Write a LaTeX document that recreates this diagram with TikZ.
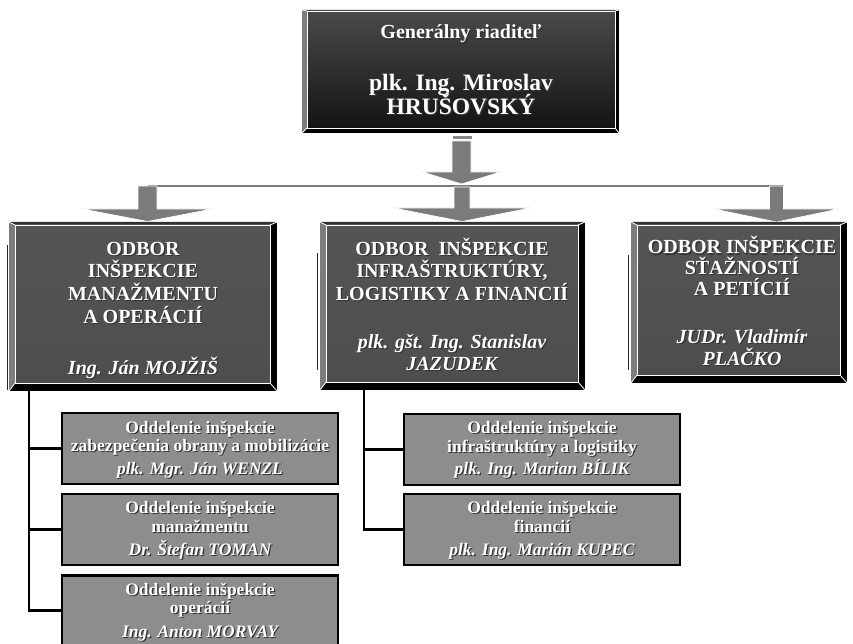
\documentclass[tikz,border=0pt]{standalone}
\usepackage{fontspec}
\setmainfont{Liberation Serif}
\definecolor{arrowgray}{RGB}{123,123,123}
\definecolor{stubgray}{RGB}{135,135,135}
\definecolor{subgray}{RGB}{141,141,141}
\definecolor{bevelgray}{RGB}{125,125,125}
\definecolor{beveltop}{RGB}{50,50,50}
\definecolor{faceA}{RGB}{84,84,84}
\definecolor{faceB}{RGB}{26,26,26}
\definecolor{faceC}{RGB}{78,78,78}
\definecolor{topA}{RGB}{74,74,74}
\definecolor{topB}{RGB}{20,20,20}
\definecolor{sideline}{RGB}{40,40,40}
\tikzset{
  conn/.style={line width=2.5pt, draw=black, line join=miter},
  hline/.style={line width=2.2pt, draw=arrowgray},
  arrowfill/.style={fill=arrowgray, draw=white, line width=0.7pt},
  subbox/.style={rectangle, fill=subgray, draw=black, line width=2.5pt, inner sep=0pt},
  boxarea/.style={rectangle, inner sep=0pt, draw=none},
  tline/.style={anchor=base, inner sep=0pt, text=white},
  tshadow/.style={text=black!80},
  ftop/.style={font=\fontsize{20}{20}\selectfont\bfseries},
  ftopbig/.style={font=\fontsize{23.5}{23.5}\selectfont\bfseries},
  fodbor/.style={font=\fontsize{20}{20}\selectfont\bfseries},
  fodborit/.style={font=\fontsize{20}{20}\selectfont\bfseries\itshape},
  fsub/.style={font=\fontsize{17.5}{18}\selectfont\bfseries},
  fsubit/.style={font=\fontsize{17.5}{18}\selectfont\bfseries\itshape},
  facetop/.style={top color=topA, bottom color=topB},
  faceodbor/.style={top color=faceA, middle color=faceB, bottom color=faceC},
}
% x1 y1 x2 y2 L T R B facestyle
\newcommand\bevelbox[9]{%
  \fill[black] (#1,#2) rectangle (#3,#4);
  \fill[bevelgray] (#1,#2) -- ({#1+#5},{#2+#6}) -- ({#1+#5},{#4-#8}) -- (#1,#4) -- cycle;
  \fill[beveltop] (#1,#2) -- (#3,#2) -- ({#3-#7},{#2+#6}) -- ({#1+#5},{#2+#6}) -- cycle;
  \shade[#9] ({#1+#5},{#2+#6}) rectangle ({#3-#7},{#4-#8});
  \draw[white, line width=0.8pt] ({#1+#5},{#2+#6}) rectangle ({#3-#7},{#4-#8});
  \draw[white, line width=0.8pt] (#1,#2) -- ({#1+#5},{#2+#6})
     (#3,#2) -- ({#3-#7},{#2+#6}) (#3,#4) -- ({#3-#7},{#4-#8}) (#1,#4) -- ({#1+#5},{#4-#8});
}
% name x y style text
\newcommand\txtline[5]{%
  \node[tline,#4,tshadow] (#1-s) at ({#2+1.2},{#3+1.2}) {#5};
  \node[tline,#4] (#1) at (#2,#3) {#5};
}
% cx stemhalf ytop yhead headhalf ytip
\newcommand\blockarrow[6]{%
  \path[arrowfill] ({#1-#2},#3) -- ({#1+#2},#3) -- ({#1+#2},#4) -- ({#1+#5},#4)
     -- (#1,#6) -- ({#1-#5},#4) -- ({#1-#2},#4) -- cycle;
}
\begin{document}
\begin{tikzpicture}[x=1pt,y=-1pt]
\useasboundingbox (0,0) rectangle (853,644);
\clip (0,0) rectangle (853,644);
\fill[white] (0,0) rectangle (853,644);

% ---------- top box ----------
\bevelbox{302}{10}{619}{133}{5}{1}{4}{5}{facetop}
\node[boxarea, minimum width=317pt, minimum height=123pt] (gd) at (460.5,71.5) {};
\txtline{gd1}{461}{39}{ftop}{Generálny riaditeľ}
\txtline{gd2}{461}{90.5}{ftopbig}{plk. Ing. Miroslav}
\txtline{gd3}{461}{114.5}{ftopbig}{HRUŠOVSKÝ}

% ---------- arrows ----------
\fill[stubgray] (453,136) rectangle (472,139);
\blockarrow{461.5}{9.5}{141}{172}{39}{184}
\coordinate (hl) at (147.5,185.8);
\coordinate (hr) at (784,185.8);
\draw[hline] (hl) -- (hr);
\blockarrow{147.5}{9.5}{186}{209}{65}{221.5}
\blockarrow{462}{8}{187}{208}{68.5}{221.5}
\blockarrow{776.5}{7}{186}{209}{62.5}{222}

% ---------- side lines ----------
\draw[sideline, line width=1pt] (7,245) -- (7,390);
\draw[sideline, line width=1pt] (317,253) -- (317,370);
\draw[sideline, line width=1pt] (628,255) -- (628,370);

% ---------- second level boxes ----------
\bevelbox{9}{222}{277}{391}{6}{3}{7}{8}{faceodbor}
\node[boxarea, minimum width=268pt, minimum height=169pt] (oa) at (143,306.5) {};
\txtline{oa1}{143}{255}{fodbor}{ODBOR}
\txtline{oa2}{143}{277.5}{fodbor}{INŠPEKCIE}
\txtline{oa3}{143}{300}{fodbor}{MANAŽMENTU}
\txtline{oa4}{143}{323}{fodbor}{A OPERÁCIÍ}
\txtline{oa5}{143}{374}{fodborit}{Ing. Ján MOJŽIŠ}

\bevelbox{320}{222}{585}{390}{6}{3}{7}{8}{faceodbor}
\node[boxarea, minimum width=265pt, minimum height=168pt] (ob) at (452.5,306) {};
\txtline{ob1}{452}{255}{fodbor}{ODBOR\ \ INŠPEKCIE}
\txtline{ob2}{452}{277.5}{fodbor}{INFRAŠTRUKTÚRY,}
\txtline{ob3}{452}{300}{fodbor}{LOGISTIKY A FINANCIÍ}
\txtline{ob4}{452}{348}{fodborit}{plk. gšt. Ing. Stanislav}
\txtline{ob5}{452}{370}{fodborit}{JAZUDEK}

\bevelbox{631}{222}{847}{383}{6}{3}{7}{8}{faceodbor}
\node[boxarea, minimum width=216pt, minimum height=161pt] (oc) at (739,302.5) {};
\txtline{oc1}{742}{254}{fodbor}{ODBOR INŠPEKCIE}
\txtline{oc2}{742}{274.5}{fodbor}{SŤAŽNOSTÍ}
\txtline{oc3}{742}{295}{fodbor}{A PETÍCIÍ}
\txtline{oc4}{742}{343}{fodborit}{JUDr. Vladimír}
\txtline{oc5}{742}{365}{fodborit}{PLAČKO}

% ---------- sub boxes left ----------
\node[subbox, minimum width=276pt, minimum height=71pt] (s1) at (200,448.5) {};
\node[subbox, minimum width=276pt, minimum height=71pt] (s2) at (200,529.5) {};
\node[subbox, minimum width=276pt, minimum height=70pt] (s3) at (200,610.5) {};
\coordinate (lt) at (29,391);
\draw[conn] (lt) |- (s1.west);
\draw[conn] (lt) |- (s2.west);
\draw[conn] (lt) |- (s3.west);

\txtline{s1a}{200}{433}{fsub}{Oddelenie inšpekcie}
\txtline{s1b}{200}{451}{fsub}{zabezpečenia obrany a mobilizácie}
\txtline{s1c}{200}{474}{fsubit}{plk. Mgr. Ján WENZL}
\txtline{s2a}{200}{513.5}{fsub}{Oddelenie inšpekcie}
\txtline{s2b}{200}{532}{fsub}{manažmentu}
\txtline{s2c}{200}{555.5}{fsubit}{Dr. Štefan TOMAN}
\txtline{s3a}{200}{595}{fsub}{Oddelenie inšpekcie}
\txtline{s3b}{200}{613.5}{fsub}{operácií}
\txtline{s3c}{200}{637}{fsubit}{Ing. Anton MORVAY}

% ---------- sub boxes middle ----------
\node[subbox, minimum width=276pt, minimum height=71pt] (m1) at (542,449.5) {};
\node[subbox, minimum width=276pt, minimum height=71pt] (m2) at (542,529.5) {};
\coordinate (mt) at (364,390);
\draw[conn] (mt) |- (m1.west);
\draw[conn] (mt) |- (m2.west);

\txtline{m1a}{542}{433}{fsub}{Oddelenie inšpekcie}
\txtline{m1b}{542}{452}{fsub}{infraštruktúry a logistiky}
\txtline{m1c}{542}{474}{fsubit}{plk. Ing. Marian BÍLIK}
\txtline{m2a}{542}{513.5}{fsub}{Oddelenie inšpekcie}
\txtline{m2b}{542}{532}{fsub}{financií}
\txtline{m2c}{542}{555.5}{fsubit}{plk. Ing. Marián KUPEC}
\end{tikzpicture}
\end{document}
